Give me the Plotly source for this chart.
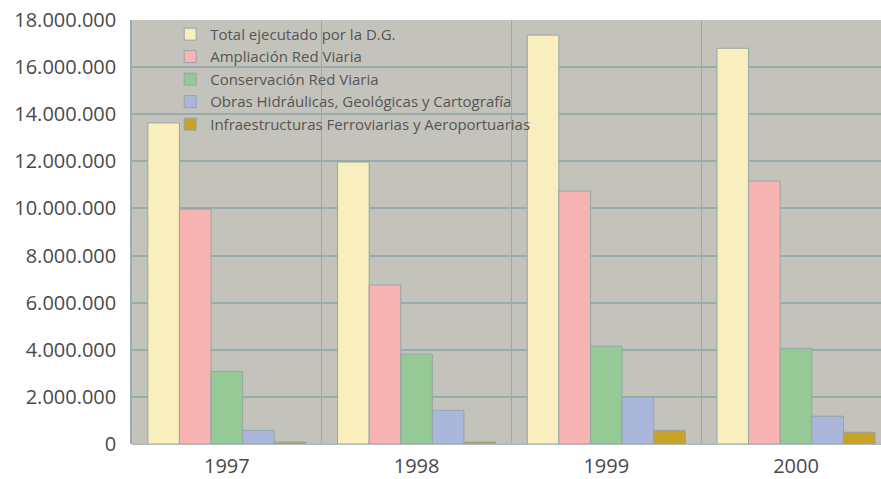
import plotly.graph_objects as go

years = ["1997", "1998", "1999", "2000"]
series_names = [
    "Total ejecutado por la D.G.",
    "Ampliación Red Viaria",
    "Conservación Red Viaria",
    "Obras Hidráulicas, Geológicas y Cartografía",
    "Infraestructuras Ferroviarias y Aeroportuarias",
]
total = [13630000, 11970000, 17360000, 16800000]
ampliacion = [9970000, 6750000, 10740000, 11160000]
conservacion = [3080000, 3820000, 4150000, 4060000]
obras = [580000, 1430000, 1980000, 1180000]
infra = [80000, 80000, 580000, 500000]
colors = ["#F9EFBE", "#F8B4B2", "#95C995", "#AAB6DA", "#C8A226"]
y_ticks = [0, 2000000, 4000000, 6000000, 8000000, 10000000, 12000000, 14000000, 16000000, 18000000]

fig = go.Figure()
for i, (name, vals, col) in enumerate(zip(series_names, [total, ampliacion, conservacion, obras, infra], colors)):
    fig.add_trace(go.Bar(
        x=years, y=vals, name=name, legendgroup=f"g{i}",
        marker=dict(color=col, line=dict(color="#94A6A7", width=1)),
    ))

grid = "#9AABAB"
fig.update_layout(
    width=881, height=479,
    margin=dict(l=132, r=0, t=20, b=35, autoexpand=False),
    paper_bgcolor="white",
    plot_bgcolor="#C4C3BB",
    barmode="group",
    bargap=0.167,
    bargroupgap=0,
    separators=",.",
    font=dict(family="Open Sans, sans-serif", color="#4a4a4a"),
    legend=dict(
        x=0.051, y=1.005, xanchor="left", yanchor="top",
        bgcolor="rgba(0,0,0,0)",
        font=dict(size=15, color="#555555"),
        traceorder="normal",
        tracegroupgap=3,
    ),
    xaxis=dict(
        type="category",
        range=[-0.5, 3.448],
        tickson="boundaries",
        showgrid=True, gridcolor=grid, gridwidth=1,
        ticks="", tickfont=dict(size=20, color="#4a4a4a"),
        ticklabelstandoff=8,
        showline=False, automargin=False,
    ),
    yaxis=dict(
        range=[0, 18000000],
        tickvals=y_ticks,
        tickformat=",d",
        showgrid=True, gridcolor=grid, gridwidth=1.5,
        tickfont=dict(size=20, color="#4a4a4a"),
        showline=True, linecolor=grid, linewidth=1.5,
        zeroline=True, zerolinecolor="#B0BDBD", zerolinewidth=1.5,
        ticks="", ticklabelstandoff=10, automargin=False,
        ticklabeloverflow="allow",
    ),
)

fig.write_html("out.html", config={"displayModeBar": False},
               post_script="document.body.style.margin='0';")
